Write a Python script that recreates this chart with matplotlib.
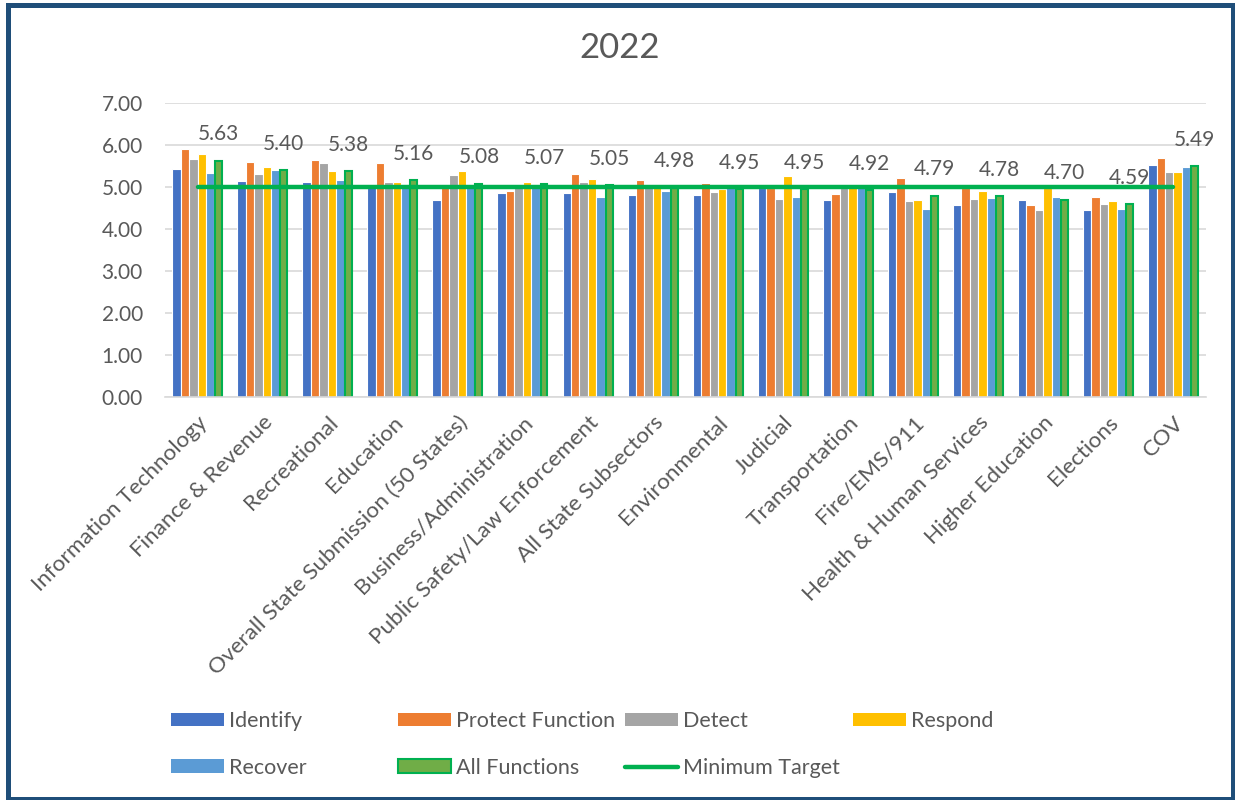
import numpy as np
import matplotlib.pyplot as plt
from matplotlib.patches import Patch, Rectangle
from matplotlib.lines import Line2D

plt.rcParams['font.family'] = ['Lato', 'DejaVu Sans']

# ---- scores per sector, 2022 ----
categories = ["Information Technology", "Finance & Revenue", "Recreational", "Education",
              "Overall State Submission (50 States)", "Business/Administration",
              "Public Safety/Law Enforcement", "All State Subsectors", "Environmental",
              "Judicial", "Transportation", "Fire/EMS/911", "Health & Human Services",
              "Higher Education", "Elections", "COV"]

identify = [5.43, 5.14, 5.13, 5.00, 4.69, 4.85, 4.85, 4.80, 4.82, 4.97, 4.70, 4.88, 4.57, 4.69, 4.45, 5.52]
protect = [5.90, 5.60, 5.65, 5.58, 5.00, 4.90, 5.31, 5.17, 5.10, 4.97, 4.83, 5.22, 4.98, 4.56, 4.77, 5.68]
detect = [5.67, 5.30, 5.56, 5.13, 5.29, 5.03, 5.12, 5.02, 4.88, 4.71, 4.98, 4.66, 4.71, 4.46, 4.60, 5.35]
respond = [5.79, 5.48, 5.38, 5.13, 5.39, 5.13, 5.19, 5.00, 4.96, 5.25, 5.00, 4.70, 4.90, 4.98, 4.67, 5.35]
recover = [5.33, 5.40, 5.16, 5.05, 5.02, 5.04, 4.77, 4.90, 5.00, 4.75, 5.00, 4.48, 4.73, 4.77, 4.48, 5.48]
all_functions = [5.63, 5.40, 5.38, 5.16, 5.08, 5.07, 5.05, 4.98, 4.95, 4.95, 4.92, 4.79, 4.78, 4.70, 4.59, 5.49]
minimum_target = [5.00] * len(categories)

yticks = [0, 1, 2, 3, 4, 5, 6, 7]

TXT = '#595959'
series = [("Identify", identify, '#4472C4'),
          ("Protect Function", protect, '#ED7D31'),
          ("Detect", detect, '#A5A5A5'),
          ("Respond", respond, '#FFC000'),
          ("Recover", recover, '#5B9BD5'),
          ("All Functions", all_functions, '#70AD47')]

fig = plt.figure(figsize=(12.35, 8), dpi=100)
ax = fig.add_axes([0.1336, 0.50375, 0.8429, 0.3675])

x = np.arange(len(categories))
bw = 0.13
handles = {}
for i, (name, vals, col) in enumerate(series):
    xs = x + (i - 2.5) * bw
    if name == "All Functions":
        ax.bar(xs, vals, bw * 0.82, color=col, edgecolor='#00B050', linewidth=1.5, zorder=2)
        handles[name] = Patch(facecolor=col, edgecolor='#00B050', linewidth=1.5)
        for xi, v in zip(xs, vals):
            ax.annotate(f"{v:.2f}", (xi, v), xytext=(0, 19), textcoords='offset points',
                        ha='center', va='center', fontsize=15, color=TXT)
    else:
        ax.bar(xs, vals, bw, color=col, edgecolor='white', linewidth=0.8, zorder=2)
        handles[name] = Patch(facecolor=col)

ax.plot(x, minimum_target, color='#00B050', linewidth=3.2, zorder=3, solid_capstyle='round')
handles["Minimum Target"] = Line2D([], [], color='#00B050', linewidth=3.2, solid_capstyle='round')

ax.set_xlim(-0.5, len(categories) - 0.5)
ax.set_ylim(0, 7)
ax.set_yticks(yticks)
ax.set_yticklabels([f"{t:.2f}" for t in yticks])
ax.set_xticks(x)
ax.set_xticklabels(categories, rotation=45, ha='right', va='top', rotation_mode='anchor')
ax.tick_params(axis='y', length=0, pad=16, labelsize=15, labelcolor=TXT)
ax.tick_params(axis='x', length=0, pad=11, labelsize=16.2, labelcolor=TXT)
ax.grid(axis='y', color='#D9D9D9', linewidth=1.2, zorder=0)
ax.set_axisbelow(True)
for s in ['top', 'right', 'left']:
    ax.spines[s].set_visible(False)
ax.spines['bottom'].set_color('#D9D9D9')
ax.spines['bottom'].set_linewidth(1.2)

fig.text(0.502, 0.94, "2022", ha='center', va='center', fontsize=25, color=TXT)

# legend: four evenly spaced columns
cols = [["Identify", "Recover"], ["Protect Function", "All Functions"],
        ["Detect", "Minimum Target"], ["Respond"]]
col_x = [175, 402, 629, 857]
for names, cx in zip(cols, col_x):
    leg = fig.legend([handles[n] for n in names], names, loc='upper left',
                     bbox_to_anchor=((cx - 4) / 1235, 1 - 711 / 800), frameon=False,
                     fontsize=15.5, handlelength=2.45, handleheight=0.6, handletextpad=0.25,
                     labelspacing=1.25, borderaxespad=0, borderpad=0, labelcolor=TXT)

fig.patches.append(Rectangle((8 / 1235, 1.5 / 800), 1225 / 1235, 794 / 800,
                             transform=fig.transFigure, fill=False,
                             edgecolor='#1F4E79', linewidth=3.6))

fig.savefig('out.png', dpi=100)
